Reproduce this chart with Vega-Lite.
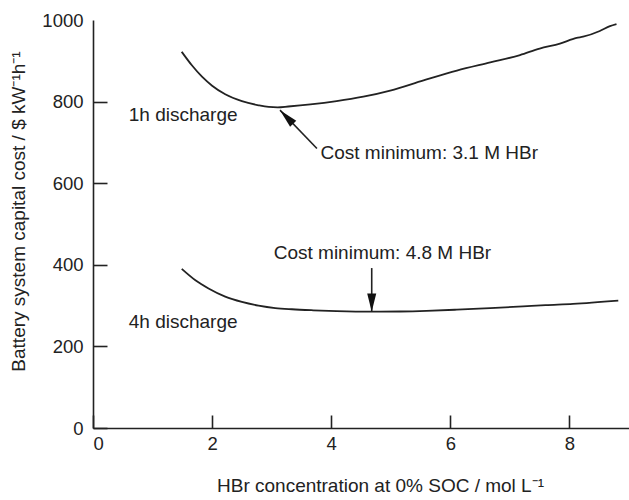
{
  "$schema": "https://vega.github.io/schema/vega-lite/v6.json",
  "width": 536,
  "height": 408,
  "autosize": {"type": "none"},
  "padding": {"left": 93, "top": 20, "right": 0, "bottom": 72},
  "background": "white",
  "config": {
    "view": {"stroke": null},
    "font": "Liberation Sans",
    "axis": {
      "grid": false,
      "domainColor": "#222",
      "domainWidth": 1.6,
      "tickColor": "#222",
      "tickWidth": 1.6,
      "labelFont": "Liberation Sans",
      "labelFontSize": 18.5,
      "labelColor": "#222",
      "titleFont": "Liberation Sans",
      "titleFontSize": 19,
      "titleFontWeight": "normal",
      "titleColor": "#222"
    }
  },
  "datasets": {
    "curves": [
      {"series": "1h", "conc": 1.49, "cost": 922},
      {"series": "1h", "conc": 1.66, "cost": 889},
      {"series": "1h", "conc": 1.83, "cost": 861},
      {"series": "1h", "conc": 2.0, "cost": 839},
      {"series": "1h", "conc": 2.22, "cost": 818},
      {"series": "1h", "conc": 2.5, "cost": 801},
      {"series": "1h", "conc": 2.78, "cost": 791},
      {"series": "1h", "conc": 2.95, "cost": 787},
      {"series": "1h", "conc": 3.1, "cost": 786},
      {"series": "1h", "conc": 3.28, "cost": 788},
      {"series": "1h", "conc": 3.65, "cost": 793},
      {"series": "1h", "conc": 4.09, "cost": 801},
      {"series": "1h", "conc": 4.54, "cost": 812},
      {"series": "1h", "conc": 4.99, "cost": 827},
      {"series": "1h", "conc": 5.55, "cost": 852},
      {"series": "1h", "conc": 6.11, "cost": 876},
      {"series": "1h", "conc": 6.67, "cost": 896},
      {"series": "1h", "conc": 7.17, "cost": 914},
      {"series": "1h", "conc": 7.5, "cost": 930},
      {"series": "1h", "conc": 7.84, "cost": 942},
      {"series": "1h", "conc": 8.12, "cost": 956},
      {"series": "1h", "conc": 8.23, "cost": 959},
      {"series": "1h", "conc": 8.51, "cost": 973},
      {"series": "1h", "conc": 8.68, "cost": 985},
      {"series": "1h", "conc": 8.79, "cost": 990},
      {"series": "4h", "conc": 1.49, "cost": 390},
      {"series": "4h", "conc": 1.72, "cost": 362},
      {"series": "4h", "conc": 1.94, "cost": 342},
      {"series": "4h", "conc": 2.22, "cost": 322},
      {"series": "4h", "conc": 2.5, "cost": 309},
      {"series": "4h", "conc": 2.78, "cost": 300},
      {"series": "4h", "conc": 3.06, "cost": 294},
      {"series": "4h", "conc": 3.34, "cost": 291},
      {"series": "4h", "conc": 3.7, "cost": 288.5},
      {"series": "4h", "conc": 4.09, "cost": 286.5},
      {"series": "4h", "conc": 4.65, "cost": 285},
      {"series": "4h", "conc": 5.16, "cost": 285.5},
      {"series": "4h", "conc": 5.6, "cost": 287},
      {"series": "4h", "conc": 6.11, "cost": 290},
      {"series": "4h", "conc": 6.67, "cost": 294},
      {"series": "4h", "conc": 7.22, "cost": 298},
      {"series": "4h", "conc": 7.6, "cost": 301},
      {"series": "4h", "conc": 8.06, "cost": 304},
      {"series": "4h", "conc": 8.82, "cost": 312}
    ],
    "arrows": [
      {"name": "1h", "conc": 3.76, "cost": 685, "tipConc": 3.14, "tipCost": 779},
      {"name": "4h", "conc": 4.68, "cost": 392, "tipConc": 4.68, "tipCost": 285}
    ],
    "notes": [
      {"label": "1h discharge", "conc": 0.6, "cost": 767, "anchor": "left"},
      {"label": "4h discharge", "conc": 0.6, "cost": 261, "anchor": "left"},
      {"label": "Cost minimum: 3.1 M HBr", "conc": 3.82, "cost": 674, "anchor": "left"},
      {"label": "Cost minimum: 4.8 M HBr", "conc": 4.86, "cost": 428, "anchor": "center"}
    ]
  },
  "encoding": {
    "x": {
      "field": "conc",
      "type": "quantitative",
      "scale": {"domain": [0, 9], "nice": false, "zero": false},
      "axis": {
        "values": [0, 2, 4, 6, 8],
        "format": "d",
        "tickSize": -13,
        "labelPadding": 19,
        "title": "HBr concentration at 0% SOC / mol L⁻¹",
        "titlePadding": 24,
        "titleX": 287
      }
    },
    "y": {
      "field": "cost",
      "type": "quantitative",
      "scale": {"domain": [0, 1000], "nice": false},
      "axis": {
        "values": [0, 200, 400, 600, 800, 1000],
        "format": "d",
        "tickSize": -14,
        "labelPadding": 24,
        "tickColor": {"condition": {"test": "datum.value == 1000", "value": "transparent"}, "value": "#222"},
        "title": "Battery system capital cost / $ kW⁻¹h⁻¹",
        "titlePadding": 13,
        "titleY": 191
      }
    }
  },
  "layer": [
    {
      "data": {"name": "curves"},
      "mark": {"type": "line", "interpolate": "monotone", "color": "#222", "strokeWidth": 1.8},
      "encoding": {"detail": {"field": "series"}}
    },
    {
      "data": {"name": "arrows"},
      "mark": {"type": "rule", "color": "#222", "strokeWidth": 1.6},
      "encoding": {
        "x2": {"field": "tipConc"},
        "y2": {"field": "tipCost"}
      }
    },
    {
      "data": {"name": "arrows"},
      "transform": [{"filter": "datum.name == '1h'"}],
      "mark": {"type": "point", "shape": "M0,0L0.45,2L-0.45,2Z", "filled": true, "color": "#111", "opacity": 1, "size": 360, "angle": 316},
      "encoding": {
        "x": {"field": "tipConc", "type": "quantitative"},
        "y": {"field": "tipCost", "type": "quantitative"}
      }
    },
    {
      "data": {"name": "arrows"},
      "transform": [{"filter": "datum.name == '4h'"}],
      "mark": {"type": "point", "shape": "M0,0L0.5,2L-0.5,2Z", "filled": true, "color": "#111", "opacity": 1, "size": 330, "angle": 180},
      "encoding": {
        "x": {"field": "tipConc", "type": "quantitative"},
        "y": {"field": "tipCost", "type": "quantitative"}
      }
    },
    {
      "data": {"name": "notes"},
      "transform": [{"filter": "datum.anchor == 'left'"}],
      "mark": {"type": "text", "align": "left", "baseline": "middle", "fontSize": 19, "color": "#222", "font": "Liberation Sans"},
      "encoding": {"text": {"field": "label"}}
    },
    {
      "data": {"name": "notes"},
      "transform": [{"filter": "datum.anchor == 'center'"}],
      "mark": {"type": "text", "align": "center", "baseline": "middle", "fontSize": 19, "color": "#222", "font": "Liberation Sans"},
      "encoding": {"text": {"field": "label"}}
    }
  ]
}
